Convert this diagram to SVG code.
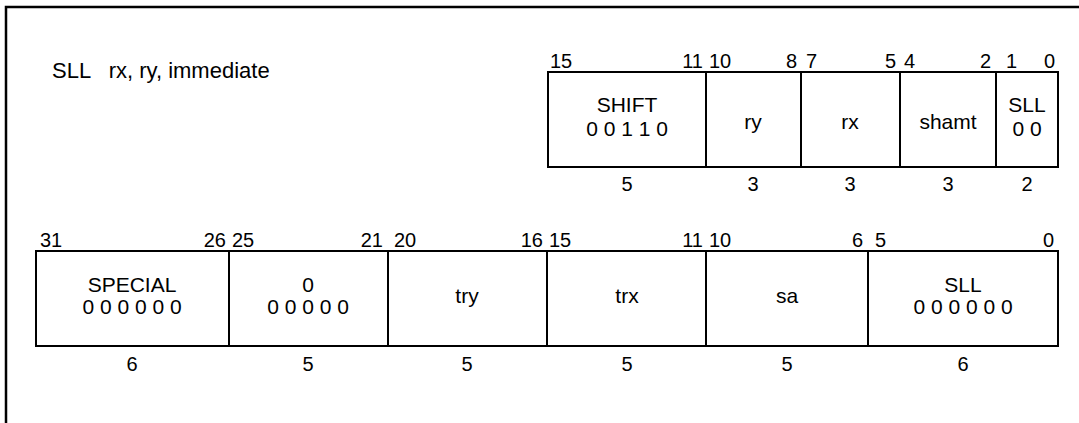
<svg xmlns="http://www.w3.org/2000/svg" width="1079" height="423" viewBox="0 0 1079 423">
<style>
text{font-family:"Liberation Sans",Arial,sans-serif;font-size:20px;fill:#000;white-space:pre}
.f{font-size:21px}
.t{font-size:22px}
.c{text-anchor:middle}
.e{text-anchor:end}
.box{fill:#fff;stroke:#000;stroke-width:2}
.frame{fill:none;stroke:#000;stroke-width:2.5}
</style>
<path class="frame" d="M6,423 V7 H1079"/>
<text class="t" x="52" y="78" xml:space="preserve">SLL   rx, ry, immediate</text>
<g id="upper">
<g id="u-shift"><rect class="box" x="548" y="72" width="158" height="95"/><text class="c f" x="627" y="112">SHIFT</text><text class="c f" x="627" y="136">0 0 1 1 0</text><text x="550" y="68">15</text><text class="e" x="703" y="68">11</text><text class="c" x="627" y="191">5</text></g>
<g id="u-ry"><rect class="box" x="706" y="72" width="95" height="95"/><text class="c f" x="753" y="129">ry</text><text x="709" y="68">10</text><text class="e" x="797" y="68">8</text><text class="c" x="753" y="191">3</text></g>
<g id="u-rx"><rect class="box" x="801" y="72" width="99" height="95"/><text class="c f" x="850" y="129">rx</text><text x="806" y="68">7</text><text class="e" x="896" y="68">5</text><text class="c" x="850" y="191">3</text></g>
<g id="u-shamt"><rect class="box" x="900" y="72" width="96" height="95"/><text class="c f" x="948" y="129">shamt</text><text x="904" y="68">4</text><text class="e" x="991" y="68">2</text><text class="c" x="948" y="191">3</text></g>
<g id="u-sll"><rect class="box" x="996" y="72" width="62" height="95"/><text class="c f" x="1027" y="112">SLL</text><text class="c f" x="1027" y="136">0 0</text><text x="1006" y="68">1</text><text class="e" x="1055" y="68">0</text><text class="c" x="1027" y="191">2</text></g>
</g>
<g id="lower">
<g id="l-special"><rect class="box" x="36" y="251" width="193" height="95"/><text class="c f" x="132" y="292">SPECIAL</text><text class="c f" x="132" y="314">0 0 0 0 0 0</text><text x="40" y="247">31</text><text class="e" x="226" y="247">26</text><text class="c" x="132" y="371">6</text></g>
<g id="l-zero"><rect class="box" x="229" y="251" width="159" height="95"/><text class="c f" x="308" y="292">0</text><text class="c f" x="308" y="314">0 0 0 0 0</text><text x="232" y="247">25</text><text class="e" x="383" y="247">21</text><text class="c" x="308" y="371">5</text></g>
<g id="l-try"><rect class="box" x="388" y="251" width="159" height="95"/><text class="c f" x="467" y="303">try</text><text x="394" y="247">20</text><text class="e" x="543" y="247">16</text><text class="c" x="467" y="371">5</text></g>
<g id="l-trx"><rect class="box" x="547" y="251" width="159" height="95"/><text class="c f" x="627" y="303">trx</text><text x="549" y="247">15</text><text class="e" x="703" y="247">11</text><text class="c" x="627" y="371">5</text></g>
<g id="l-sa"><rect class="box" x="706" y="251" width="162" height="95"/><text class="c f" x="787" y="303">sa</text><text x="709" y="247">10</text><text class="e" x="863" y="247">6</text><text class="c" x="787" y="371">5</text></g>
<g id="l-sll"><rect class="box" x="868" y="251" width="190" height="95"/><text class="c f" x="963" y="292">SLL</text><text class="c f" x="963" y="314">0 0 0 0 0 0</text><text x="875" y="247">5</text><text class="e" x="1054" y="247">0</text><text class="c" x="963" y="371">6</text></g>
</g>
</svg>
